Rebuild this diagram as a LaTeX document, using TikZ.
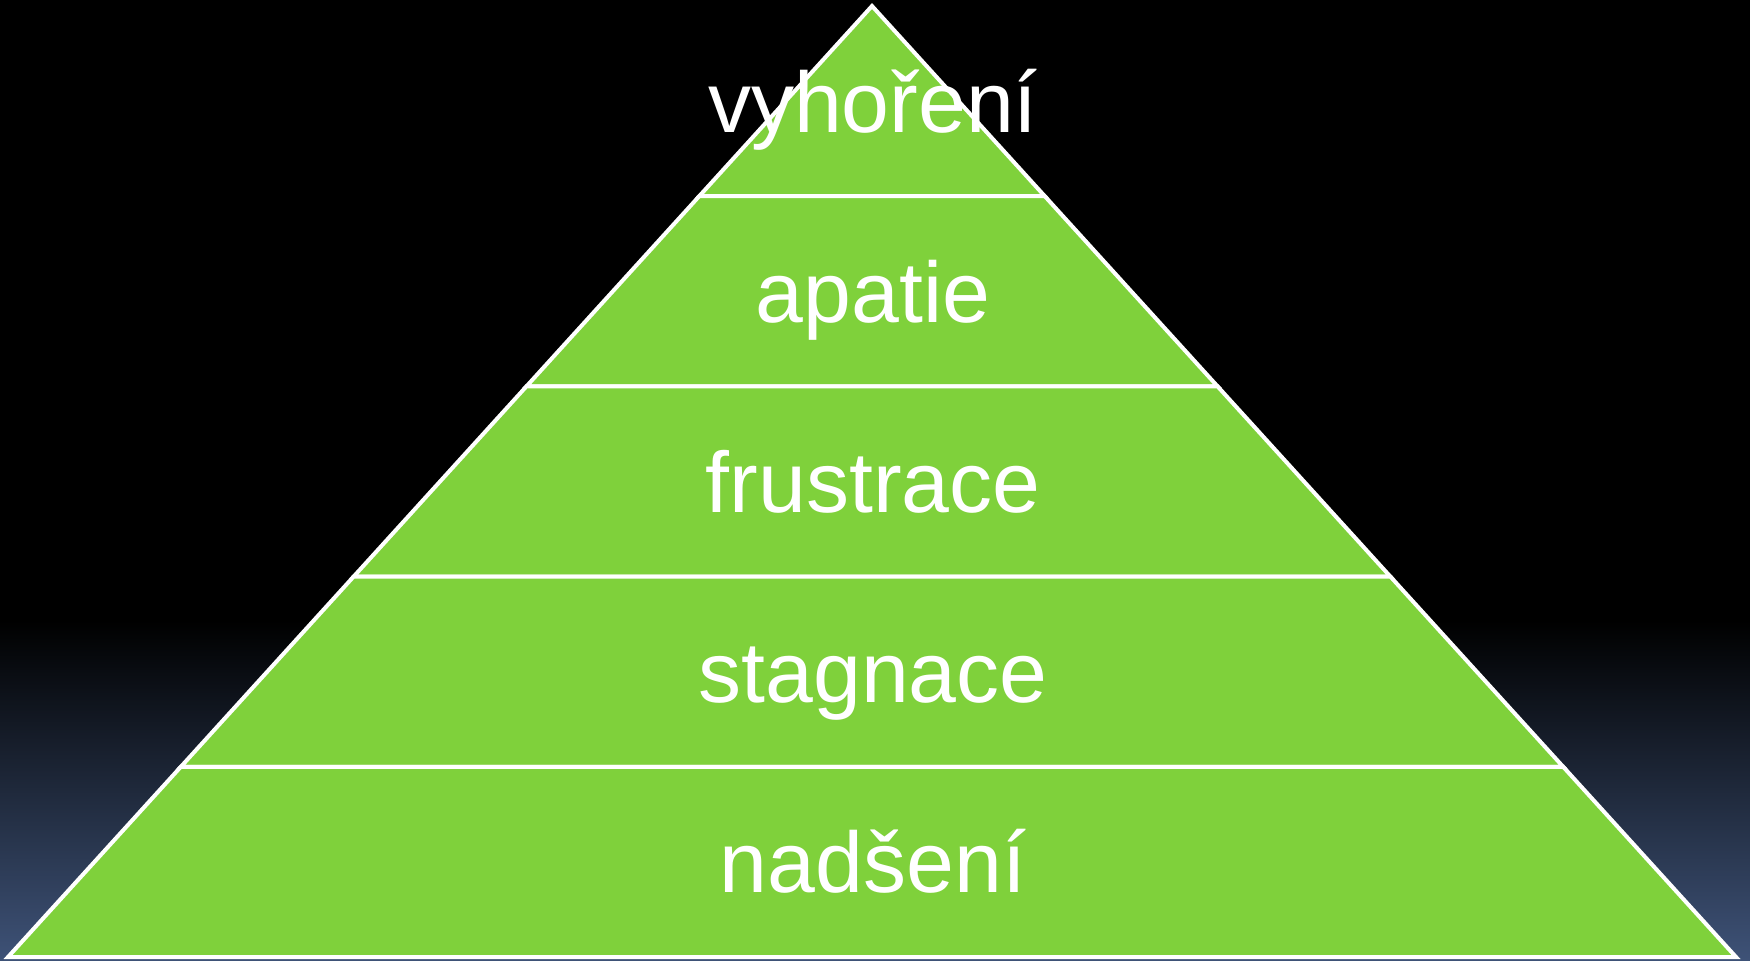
\documentclass[tikz,border=0pt]{standalone}
\usepackage{fontspec}
\setmainfont{Liberation Sans}
\definecolor{leaf}{HTML}{7FD13B}
\definecolor{dusk}{HTML}{3E5277}
\begin{document}
\begin{tikzpicture}[x=0.5pt,y=-0.5pt,
  tierbox/.style={fill=leaf,draw=white,line width=2pt,line join=miter},
  tiertext/.style={text=white,font=\fontsize{43}{51}\selectfont,anchor=base,inner sep=0pt}]
\useasboundingbox (0,0) rectangle (1750,960);
% background: black above, fading to slate blue at the bottom
\fill[black] (0,0) rectangle (1750,621);
\shade[top color=black,bottom color=dusk] (0,620) rectangle (1750,960);
% pyramid tiers (apex at x=872, y=6; base at y=957)
\coordinate (apex) at (872,6);
\draw[tierbox] (apex) -- (872+172.8,196.2) -- (872-172.8,196.2) -- cycle;
\foreach \k in {1,...,4} {
  \pgfmathsetmacro{\ya}{6+190.2*\k}
  \pgfmathsetmacro{\yb}{\ya+190.2}
  \pgfmathsetmacro{\wa}{0.9085*(\ya-6)}
  \pgfmathsetmacro{\wb}{0.9085*(\yb-6)}
  \draw[tierbox] (872-\wa,\ya) -- (872+\wa,\ya) -- (872+\wb,\yb) -- (872-\wb,\yb) -- cycle;
}
% tier captions
\node[tiertext] (vyhoreni) at (873,132) {vyhoření};
\node[tiertext] (apatie) at (873,322) {apatie};
\node[tiertext] (frustrace) at (873,512) {frustrace};
\node[tiertext] (stagnace) at (873,702) {stagnace};
\node[tiertext] (nadseni) at (873,892) {nadšení};
\end{tikzpicture}
\end{document}
